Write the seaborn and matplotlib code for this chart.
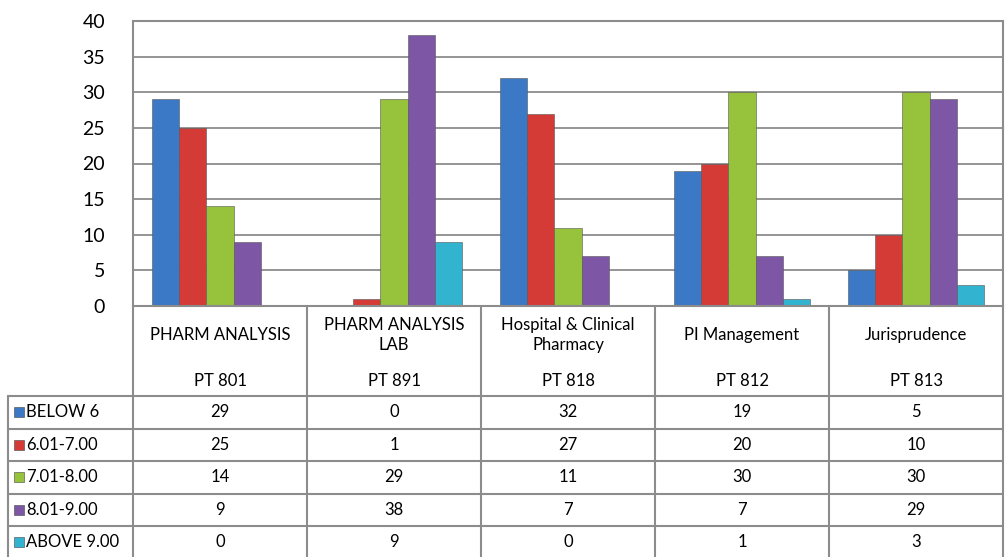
import matplotlib
matplotlib.use('Agg')
import matplotlib.pyplot as plt
import pandas as pd
import seaborn as sns

courses = ['PHARM ANALYSIS', 'PHARM ANALYSIS\nLAB', 'Hospital & Clinical\nPharmacy',
           'PI Management', 'Jurisprudence']
codes = ['PT 801', 'PT 891', 'PT 818', 'PT 812', 'PT 813']
bands = ['BELOW 6', '6.01-7.00', '7.01-8.00', '8.01-9.00', 'ABOVE 9.00']
below_6 = [29, 0, 32, 19, 5]
from_6_to_7 = [25, 1, 27, 20, 10]
from_7_to_8 = [14, 29, 11, 30, 30]
from_8_to_9 = [9, 38, 7, 7, 29]
above_9 = [0, 9, 0, 1, 3]
colors = ['#3b78c6', '#d43b36', '#97c23c', '#7e56a6', '#32b3cf']

series = [below_6, from_6_to_7, from_7_to_8, from_8_to_9, above_9]
rows = []
for band, vals in zip(bands, series):
    for code, v in zip(codes, vals):
        rows.append({'course': code, 'band': band, 'count': v})
df = pd.DataFrame(rows)

sns.set_style('white')
plt.rcParams['font.family'] = ['Lato', 'DejaVu Sans']

W, H = 1007, 557
fig = plt.figure(figsize=(W / 100, H / 100), dpi=100)
grid_col = '#8c8c8c'
txt = '#000000'

# geometry in pixels
left, right, top, base = 133, 1003, 21, 306
ax = fig.add_axes([left / W, (H - base) / H, (right - left) / W, (base - top) / H])
sns.barplot(data=df, x='course', y='count', hue='band', palette=colors,
            width=0.78, ax=ax, legend=False, edgecolor='#555555', linewidth=0.4,
            saturation=1)
ax.set_ylim(0, 40)
ax.set_xlim(-0.5, 4.5)
ax.set_yticks(range(0, 41, 5))
ax.set_xticks([])
ax.set_xlabel('')
ax.set_ylabel('')
ax.tick_params(axis='y', labelsize=14, length=0, pad=20, labelcolor=txt)
ax.yaxis.grid(True, color=grid_col, linewidth=1.3)
ax.set_axisbelow(True)
for s in ax.spines.values():
    s.set_color(grid_col)
    s.set_linewidth(1.5)

# data table drawn in pixel coordinates
tb = fig.add_axes([0, 0, 1, 1], facecolor='none')
tb.set_xlim(0, W)
tb.set_ylim(H, 0)
tb.axis('off')

col_w = (right - left) / 5
row_y = [396, 428.5, 461, 493.5, 526, 558.5]
tlab = 8
for i in range(6):
    x = left + i * col_w
    tb.plot([x, x], [base, H], color=grid_col, lw=1.5)
tb.plot([tlab, tlab], [row_y[0], H], color=grid_col, lw=1.5)
for y in row_y[:-1]:
    tb.plot([tlab, right], [y, y], color=grid_col, lw=1.5)

fs = 12
for i, (c, code) in enumerate(zip(courses, codes)):
    cx = left + (i + 0.5) * col_w
    tb.text(cx, 335, c, ha='center', va='center', fontsize=fs, color=txt,
            linespacing=1.35)
    tb.text(cx, 381, code, ha='center', va='center', fontsize=fs, color=txt)

for r, (band, vals, col) in enumerate(zip(bands, series, colors)):
    cy = (row_y[r] + row_y[r + 1]) / 2
    tb.add_patch(plt.Rectangle((14, cy - 5), 10, 10, facecolor=col,
                               edgecolor='#444444', lw=0.4))
    tb.text(26, cy, band, ha='left', va='center', fontsize=fs, color=txt)
    for i, v in enumerate(vals):
        cx = left + (i + 0.5) * col_w
        tb.text(cx, cy, str(v), ha='center', va='center', fontsize=fs, color=txt)

fig.savefig('out.png', dpi=100)
